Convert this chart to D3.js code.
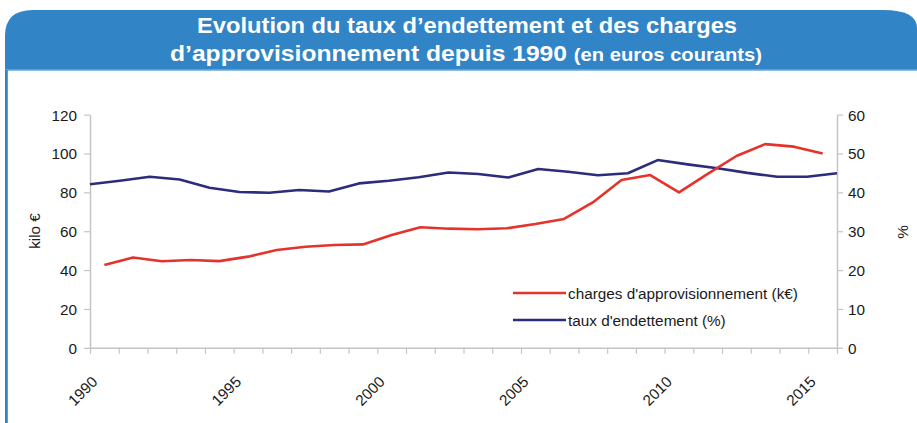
<!DOCTYPE html>
<html>
<head>
<meta charset="utf-8">
<script src="https://cdn.jsdelivr.net/npm/d3@7"></script>
<style>
  html, body { margin: 0; padding: 0; background: #fff; }
  svg { display: block; font-family: "Liberation Sans", Arial, sans-serif; }
</style>
</head>
<body>
<svg id="chart" width="917" height="423"></svg>
<script>
const years = d3.range(1990, 2016);
const charges = [42.6, 46.5, 44.5, 45.2, 44.6, 46.9, 50.3, 52.0, 52.9, 53.2, 58.0, 62.0, 61.3, 61.0, 61.5, 63.7, 66.3, 74.8, 86.3, 88.9, 80.0, 89.5, 98.7, 104.8, 103.5, 100.0];
const taux = [42.1, 43.0, 44.0, 43.3, 41.2, 40.1, 39.9, 40.6, 40.2, 42.3, 43.0, 43.9, 45.1, 44.7, 43.8, 46.0, 45.3, 44.4, 44.9, 48.3, 47.2, 46.2, 45.0, 44.0, 44.0, 44.9];
const leftTicks = [0, 20, 40, 60, 80, 100, 120];
const rightTicks = [0, 10, 20, 30, 40, 50, 60];
const xLabelYears = [1990, 1995, 2000, 2005, 2010, 2015];
const seriesNames = ["charges d'approvisionnement (k€)", "taux d'endettement (%)"];
const colors = ["#E5322A", "#2D2B7B"];

const svg = d3.select("#chart");

// Header band
const hx = 5, hy = 10, hw = 912, hh = 60;
svg.append("path")
  .attr("d", `M${hx},${hy + hh} L${hx},${hy + 26} Q${hx},${hy} ${hx + 28},${hy} L${hx + hw - 34},${hy} Q${hx + hw},${hy} ${hx + hw},${hy + 18} L${hx + hw},${hy + hh} Z`)
  .attr("fill", "#3184C6");
svg.append("rect").attr("x", hx).attr("y", 69.5).attr("width", hw).attr("height", 1.5).attr("fill", "#8DBBE3");
// left border
svg.append("rect").attr("x", 5).attr("y", 70).attr("width", 2.8).attr("height", 353).attr("fill", "#3184C6");

const title = svg.append("g").attr("fill", "#fff").attr("font-weight", "bold").attr("text-anchor", "middle");
title.append("text").attr("x", 467).attr("y", 33).attr("font-size", 22)
  .attr("textLength", 540).attr("lengthAdjust", "spacingAndGlyphs")
  .text("Evolution du taux d’endettement et des charges");
const t2 = title.append("text").attr("x", 466).attr("y", 61).attr("font-size", 22)
  .attr("textLength", 592).attr("lengthAdjust", "spacingAndGlyphs");
t2.append("tspan").text("d’approvisionnement depuis 1990 ");
t2.append("tspan").attr("font-size", 18).text("(en euros courants)");

// Scales
const x0 = 90, x1 = 837, y0 = 347.8, y1 = 114.6;
const xLin = d3.scaleLinear().domain([1990, 2016]).range([x0, x1]);
const xPt = d3.scalePoint().domain(years).range([x0, x1]);
const yL = d3.scaleLinear().domain([0, 120]).range([y0, y1]);
const yR = d3.scaleLinear().domain([0, 60]).range([y0, y1]);

const axisColor = "#C4C4C4";
const textColor = "#1A1A1A";
const fs = 15.3;

function styleAxis(g) {
  g.select(".domain").attr("stroke", axisColor).attr("stroke-width", 1.5);
  g.selectAll(".tick line").attr("stroke", axisColor).attr("stroke-width", 1.2);
  g.selectAll(".tick text").attr("fill", textColor).attr("font-size", fs)
    .attr("font-family", "'Liberation Sans', Arial, sans-serif");
}

// Left axis
const gL = svg.append("g").attr("transform", `translate(${x0},0)`)
  .call(d3.axisLeft(yL).tickValues(leftTicks).tickSize(6).tickSizeOuter(0).tickPadding(7));
styleAxis(gL);
gL.selectAll(".tick text").attr("dy", "0.36em");

// Right axis
const gR = svg.append("g").attr("transform", `translate(${x1},0)`)
  .call(d3.axisRight(yR).tickValues(rightTicks).tickSize(6).tickSizeOuter(0).tickPadding(5));
styleAxis(gR);
gR.selectAll(".tick text").attr("dy", "0.36em");

// Bottom axis
const gB = svg.append("g").attr("transform", `translate(0,${y0})`)
  .call(d3.axisBottom(xLin).tickValues(d3.range(1990, 2017)).tickSize(6).tickSizeOuter(0)
    .tickFormat(d => xLabelYears.includes(d) ? String(d) : ""));
styleAxis(gB);
gB.selectAll(".tick text")
  .attr("text-anchor", "end")
  .attr("x", 0).attr("y", 0).attr("dy", 0)
  .attr("transform", "translate(8,35) rotate(-45)");

// Axis titles
svg.append("text").attr("transform", "translate(39.5,231) rotate(-90)")
  .attr("text-anchor", "middle").attr("font-size", fs).attr("fill", textColor).text("kilo €");
svg.append("text").attr("transform", "translate(908,232) rotate(-90)")
  .attr("text-anchor", "middle").attr("font-size", fs).attr("fill", textColor).text("%");

// Lines
const lineRed = d3.line().x((d, i) => xLin(years[i] + 0.5)).y(d => yL(d));
const lineBlue = d3.line().x((d, i) => xPt(years[i])).y(d => yR(d));
svg.append("path").datum(taux).attr("d", lineBlue).attr("fill", "none")
  .attr("stroke", colors[1]).attr("stroke-width", 2.6).attr("stroke-linejoin", "round");
svg.append("path").datum(charges).attr("d", lineRed).attr("fill", "none")
  .attr("stroke", colors[0]).attr("stroke-width", 2.6).attr("stroke-linejoin", "round");

// Legend
const leg = svg.append("g");
seriesNames.forEach((name, i) => {
  const ly = 293 + i * 27;
  leg.append("line").attr("x1", 513).attr("x2", 566).attr("y1", ly).attr("y2", ly)
    .attr("stroke", colors[i]).attr("stroke-width", 2.6);
  leg.append("text").attr("x", 568).attr("y", ly).attr("dy", "0.36em")
    .attr("font-size", fs).attr("fill", textColor).text(name);
});
</script>
</body>
</html>
